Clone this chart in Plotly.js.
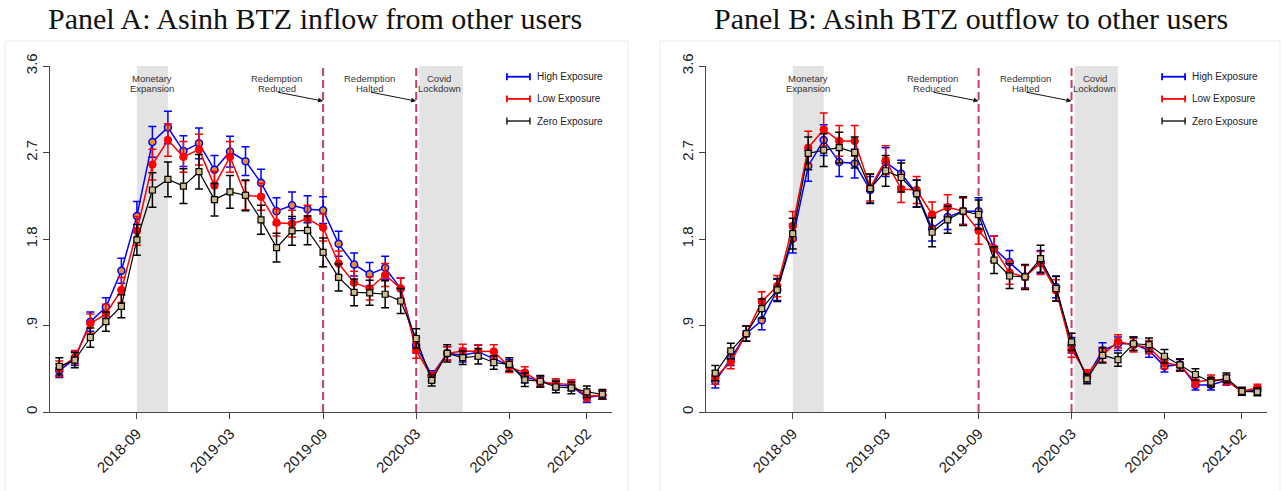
<!DOCTYPE html>
<html>
<head>
<meta charset="utf-8">
<script src="https://cdn.plot.ly/plotly-3.0.1.min.js"></script>
<style>
  html, body { margin: 0; padding: 0; background: #ffffff; }
  #chart { width: 1283px; height: 491px; }
</style>
</head>
<body>
<div id="chart"></div>
<script>
// Monthly observation periods
const months = [
  '2018-04','2018-05','2018-06','2018-07','2018-08','2018-09','2018-10','2018-11','2018-12',
  '2019-01','2019-02','2019-03','2019-04','2019-05','2019-06','2019-07','2019-08','2019-09',
  '2019-10','2019-11','2019-12','2020-01','2020-02','2020-03','2020-04','2020-05','2020-06',
  '2020-07','2020-08','2020-09','2020-10','2020-11','2020-12','2021-01','2021-02','2021-03'
];
const tickLabels = ['2018-09','2019-03','2019-09','2020-03','2020-09','2021-02'];
const yTickVals = [0, 0.9, 1.8, 2.7, 3.6];
const yTickText = ['0', '.9', '1.8', '2.7', '3.6'];

const seriesNames = ['High Exposure', 'Low Exposure', 'Zero Exposure'];

// Panel A: asinh inflow from other users (means and CI half-widths)
const inflowHigh = [0.43,0.555,0.94,1.09,1.47,2.04,2.81,2.96,2.715,2.795,2.52,2.71,2.61,2.385,2.09,2.15,2.11,2.10,
                    1.75,1.535,1.435,1.50,1.285,0.695,0.38,0.61,0.59,0.625,0.555,0.485,0.365,0.32,0.28,0.27,0.15,0.175];
const inflowLow  = [0.45,0.57,0.92,1.02,1.27,1.885,2.575,2.83,2.655,2.73,2.355,2.655,2.255,2.24,1.97,1.96,2.01,1.92,
                    1.545,1.345,1.285,1.425,1.285,0.64,0.365,0.61,0.635,0.63,0.63,0.47,0.41,0.31,0.295,0.285,0.165,0.175];
const inflowZero = [0.475,0.54,0.775,0.94,1.10,1.79,2.31,2.42,2.35,2.50,2.21,2.29,2.255,2.00,1.71,1.885,1.89,1.66,
                    1.40,1.245,1.24,1.225,1.155,0.765,0.33,0.61,0.565,0.58,0.515,0.495,0.335,0.32,0.26,0.25,0.21,0.185];
const inflowHighErr = [0.07,0.07,0.10,0.10,0.13,0.15,0.16,0.17,0.16,0.16,0.15,0.16,0.15,0.14,0.14,0.14,0.14,0.14,
                       0.13,0.12,0.12,0.12,0.11,0.08,0.05,0.07,0.07,0.07,0.07,0.06,0.06,0.05,0.05,0.05,0.05,0.04];
const inflowLowErr  = [0.08,0.07,0.10,0.10,0.13,0.15,0.16,0.17,0.16,0.16,0.15,0.16,0.15,0.14,0.14,0.14,0.14,0.14,
                       0.13,0.12,0.12,0.12,0.11,0.08,0.05,0.07,0.07,0.07,0.07,0.06,0.06,0.05,0.05,0.05,0.05,0.04];
const inflowZeroErr = [0.09,0.08,0.10,0.10,0.12,0.16,0.18,0.18,0.18,0.18,0.17,0.17,0.16,0.15,0.15,0.15,0.15,0.15,
                       0.14,0.14,0.13,0.14,0.13,0.10,0.06,0.09,0.07,0.08,0.07,0.07,0.07,0.06,0.06,0.06,0.06,0.05];

// Panel B: asinh outflow to other users (means and CI half-widths)
const outflowHigh = [0.32,0.555,0.815,0.955,1.27,1.805,2.56,2.83,2.60,2.585,2.31,2.60,2.48,2.275,1.91,2.03,2.09,2.09,
                     1.70,1.56,1.41,1.56,1.30,0.695,0.365,0.64,0.71,0.71,0.64,0.475,0.495,0.28,0.28,0.33,0.215,0.225];
const outflowLow  = [0.36,0.52,0.815,1.15,1.31,1.935,2.75,2.94,2.82,2.82,2.335,2.62,2.32,2.31,2.055,2.13,2.09,1.885,
                     1.70,1.45,1.405,1.55,1.265,0.65,0.39,0.59,0.735,0.695,0.675,0.51,0.485,0.31,0.335,0.33,0.215,0.25];
const outflowZero = [0.405,0.635,0.815,1.075,1.27,1.855,2.69,2.725,2.75,2.70,2.325,2.51,2.44,2.27,1.87,2.00,2.09,2.055,
                     1.58,1.415,1.405,1.595,1.285,0.73,0.345,0.59,0.545,0.71,0.70,0.58,0.49,0.39,0.31,0.355,0.215,0.21];
const outflowHighErr = [0.07,0.07,0.08,0.10,0.11,0.15,0.16,0.16,0.15,0.15,0.14,0.15,0.14,0.14,0.13,0.13,0.14,0.14,
                        0.13,0.12,0.12,0.12,0.11,0.08,0.05,0.08,0.07,0.07,0.07,0.06,0.06,0.05,0.05,0.05,0.04,0.04];
const outflowLowErr  = [0.07,0.07,0.08,0.10,0.11,0.15,0.17,0.17,0.16,0.16,0.14,0.15,0.14,0.14,0.13,0.13,0.14,0.14,
                        0.13,0.12,0.12,0.12,0.11,0.08,0.05,0.07,0.07,0.07,0.07,0.06,0.06,0.05,0.05,0.05,0.04,0.04];
const outflowZeroErr = [0.08,0.08,0.08,0.10,0.12,0.16,0.17,0.17,0.16,0.16,0.15,0.16,0.15,0.14,0.15,0.14,0.15,0.15,
                        0.14,0.13,0.13,0.14,0.13,0.09,0.05,0.08,0.07,0.07,0.07,0.07,0.06,0.06,0.05,0.05,0.04,0.04];

// Event markers
const shadedPeriods = [
  { from: 5, to: 7 },      // monetary expansion
  { from: 23.2, to: 26 }   // covid lockdown
];
const policyLines = [17, 23];
const eventLabels = [
  { x: 6,    lines: ['Monetary', 'Expansion'] },
  { x: 14,   lines: ['Redemption', 'Reduced'] },
  { x: 20,   lines: ['Redemption', 'Halted'] },
  { x: 24.5, lines: ['Covid', 'Lockdown'] }
];
const eventArrows = [
  { fromX: 14, fromY: 3.33, toX: 17, toY: 3.235 },
  { fromX: 20, fromY: 3.33, toX: 23, toY: 3.235 }
];

const xIdx = months.map((m, i) => i);
const tickVals = tickLabels.map(t => months.indexOf(t));

const styles = [
  { line: '#0000ff', lw: 1.5, symbol: 'circle', size: 7, fill: '#e8901c', mline: '#0000ff', mlw: 1.5 },
  { line: '#ff0000', lw: 1.5, symbol: 'circle', size: 7.5, fill: '#ff0000', mline: '#ff0000', mlw: 1 },
  { line: '#000000', lw: 1.2, symbol: 'square', size: 6, fill: '#cbbd8e', mline: '#000000', mlw: 1.2 }
];

function makeTraces(vals, errs, xa, ya) {
  return vals.map((v, k) => ({
    type: 'scatter',
    mode: 'lines+markers',
    name: seriesNames[k],
    x: xIdx,
    y: v,
    xaxis: xa,
    yaxis: ya,
    line: { color: styles[k].line, width: styles[k].lw },
    marker: {
      symbol: styles[k].symbol, size: styles[k].size, color: styles[k].fill,
      line: { color: styles[k].mline, width: styles[k].mlw }
    },
    error_y: { type: 'data', array: errs[k], visible: true, color: styles[k].line, thickness: 1.5, width: 4 },
    hoverinfo: 'x+y'
  }));
}

const data = [].concat(
  makeTraces([inflowHigh, inflowLow, inflowZero], [inflowHighErr, inflowLowErr, inflowZeroErr], 'x', 'y'),
  makeTraces([outflowHigh, outflowLow, outflowZero], [outflowHighErr, outflowLowErr, outflowZeroErr], 'x2', 'y2')
);

const W = 1283, H = 491;
const yDomain = [1 - 412 / H, 1 - 66 / H];
const tickFont = { family: 'Liberation Sans, Arial, sans-serif', size: 15, color: '#1a1a1a' };

function xAxis(domain, anchor) {
  return {
    domain: domain, anchor: anchor, range: [-0.6, 35.62],
    tickmode: 'array', tickvals: tickVals, ticktext: tickLabels, tickangle: -45,
    ticks: 'outside', ticklen: 6, tickwidth: 1, tickcolor: '#444',
    showline: true, linecolor: '#444', linewidth: 1,
    showgrid: false, zeroline: false, tickfont: tickFont, fixedrange: true
  };
}
function yAxis(anchor) {
  return {
    domain: yDomain, anchor: anchor, range: [0, 3.6],
    tickmode: 'array', tickvals: yTickVals, ticktext: yTickText, tickangle: -90,
    ticks: 'outside', ticklen: 6, tickwidth: 1, tickcolor: '#444',
    showline: true, linecolor: '#444', linewidth: 1,
    showgrid: false, zeroline: false, tickfont: tickFont, fixedrange: true
  };
}

const shapes = [];
const annotations = [];

// panel frames
[[5, 628], [660, 1280]].forEach(([a, b]) => {
  shapes.push({ type: 'rect', xref: 'paper', yref: 'paper', x0: a / W, x1: b / W, y0: -0.05, y1: 1 - 41 / H,
    line: { color: '#e3ebef', width: 1 }, fillcolor: 'rgba(0,0,0,0)', layer: 'below' });
});

const panels = [
  { xa: 'x', ya: 'y', title: 'Panel A: Asinh BTZ inflow from other users', cx: 315 },
  { xa: 'x2', ya: 'y2', title: 'Panel B: Asinh BTZ outflow to other users', cx: 971 }
];

const legendRows = [0.969, 0.905, 0.841];

panels.forEach(p => {
  shadedPeriods.forEach(s => {
    shapes.push({ type: 'rect', xref: p.xa, yref: p.ya + ' domain', x0: s.from, x1: s.to, y0: 0, y1: 1,
      fillcolor: '#e3e3e3', line: { width: 0 }, layer: 'below' });
  });
  policyLines.forEach(v => {
    shapes.push({ type: 'line', xref: p.xa, yref: p.ya + ' domain', x0: v, x1: v, y0: 0, y1: 1,
      line: { color: '#cc3b63', width: 2, dash: '8px,4px' }, layer: 'below' });
  });
  eventLabels.forEach(e => {
    e.lines.forEach((txt, j) => {
      annotations.push({ xref: p.xa, yref: p.ya, x: e.x, y: 3.465 - j * 0.1, text: txt, showarrow: false,
        xanchor: 'center', yanchor: 'middle',
        font: { family: 'Liberation Sans, Arial, sans-serif', size: 9.5, color: '#333' } });
    });
  });
  eventArrows.forEach(a => {
    annotations.push({ xref: p.xa, yref: p.ya, x: a.toX, y: a.toY, axref: p.xa, ayref: p.ya,
      ax: a.fromX, ay: a.fromY, text: '', showarrow: true, arrowhead: 2, arrowsize: 1,
      arrowwidth: 1, arrowcolor: '#111', standoff: 0, startstandoff: 0 });
  });
  // legend entries
  seriesNames.forEach((name, k) => {
    const yy = legendRows[k];
    const col = styles[k].line;
    const lw = k === 2 ? 1.3 : 1.8;
    shapes.push({ type: 'line', xref: p.xa + ' domain', yref: p.ya + ' domain', x0: 0.813, x1: 0.854, y0: yy, y1: yy,
      line: { color: col, width: lw } });
    [0.813, 0.854].forEach(cx => {
      shapes.push({ type: 'line', xref: p.xa + ' domain', yref: p.ya + ' domain', x0: cx, x1: cx, y0: yy - 0.01, y1: yy + 0.01,
        line: { color: col, width: lw } });
    });
    annotations.push({ xref: p.xa + ' domain', yref: p.ya + ' domain', x: 0.863, y: yy, text: name, showarrow: false,
      xanchor: 'left', yanchor: 'middle',
      font: { family: 'Liberation Sans, Arial, sans-serif', size: 10, color: '#222' } });
  });
  // panel title
  annotations.push({ xref: 'paper', yref: 'paper', x: p.cx / W, y: 1 - 19 / H, text: p.title, showarrow: false,
    xanchor: 'center', yanchor: 'middle',
    font: { family: 'Liberation Serif, Times New Roman, serif', size: 30, color: '#111' } });
});

const layout = {
  width: W, height: H,
  margin: { l: 0, r: 0, t: 0, b: 0 },
  paper_bgcolor: '#ffffff', plot_bgcolor: 'rgba(0,0,0,0)',
  showlegend: false,
  xaxis: xAxis([50 / W, 612 / W], 'y'),
  yaxis: yAxis('x'),
  xaxis2: xAxis([706 / W, 1267 / W], 'y2'),
  yaxis2: yAxis('x2'),
  shapes: shapes,
  annotations: annotations
};

Plotly.newPlot('chart', data, layout, { displayModeBar: false, staticPlot: true });
</script>
</body>
</html>
